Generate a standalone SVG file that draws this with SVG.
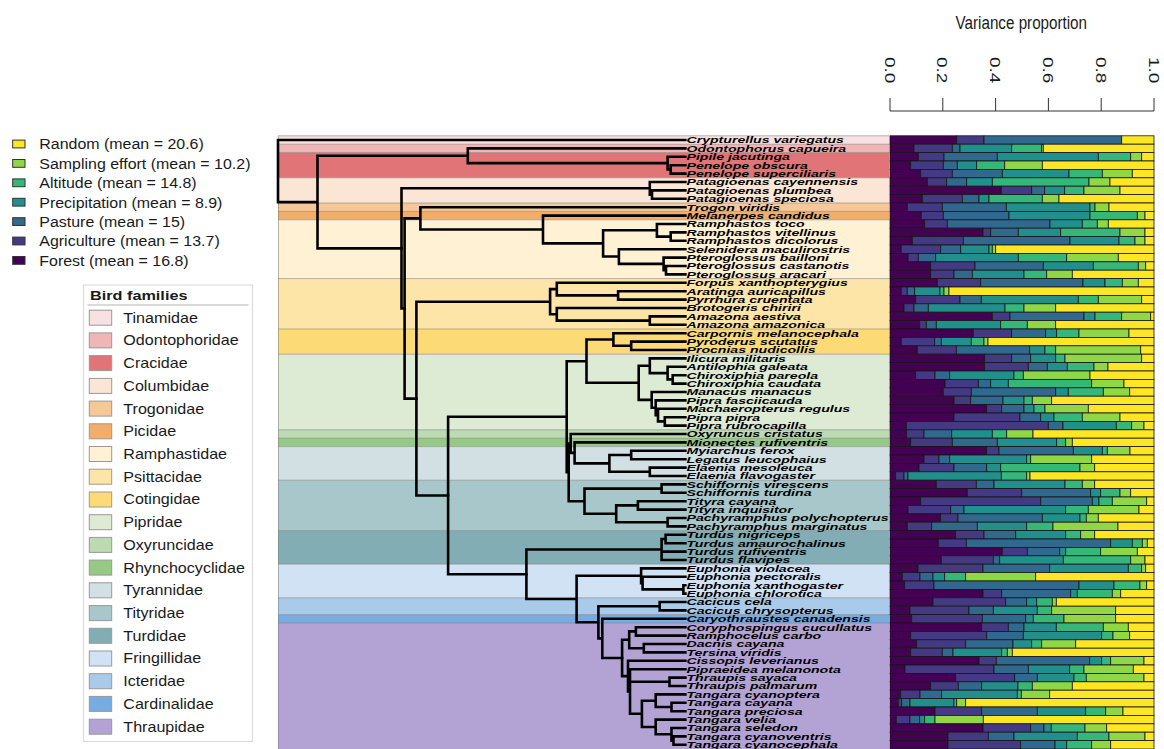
<svg xmlns="http://www.w3.org/2000/svg" width="1164" height="749" viewBox="0 0 1164 749">
<style>
text{font-family:"Liberation Sans",Arial,sans-serif;fill:#1a1a1a}
.tip text{font-weight:bold;font-style:italic;font-size:14.1px;fill:#000}
.edge{fill:none;stroke:#000;stroke-width:2.6;stroke-linecap:square}
#bars rect{stroke:#161616;stroke-width:.8}
.v1{fill:#440154}.v2{fill:#443A83}.v3{fill:#31688E}.v4{fill:#21908C}.v5{fill:#35B779}.v6{fill:#8FD744}.v7{fill:#FDE725}
.lg{font-size:15.5px}
.fam{font-size:14px}
.sw{stroke:#999;stroke-width:1}
.sep{stroke:#7d7d7d;stroke-opacity:.55;stroke-width:1}
.t1{fill:#F8E1E2}.t2{fill:#EFB5B7}.t3{fill:#E17477}.t4{fill:#FBE6D5}.t5{fill:#F6C898}.t6{fill:#F1AE6B}.t7{fill:#FFF1D4}.t8{fill:#FCE5A6}.t9{fill:#FCDB76}.t10{fill:#DDEBD5}.t11{fill:#BCDBB3}.t12{fill:#97C986}.t13{fill:#D2E0E4}.t14{fill:#A8C7CA}.t15{fill:#82ADB4}.t16{fill:#D0E2F4}.t17{fill:#A9CBE9}.t18{fill:#78ABDF}.t19{fill:#B3A3D4}
</style>
<rect width="1164" height="749" fill="#fff"/>

<g id="legend-variance">
<rect class="v7" x="12.7" y="140.1" width="12.3" height="7.8" stroke="#333"/>
<rect class="v6" x="12.7" y="159.5" width="12.3" height="7.8" stroke="#333"/>
<rect class="v5" x="12.7" y="178.9" width="12.3" height="7.8" stroke="#333"/>
<rect class="v4" x="12.7" y="198.3" width="12.3" height="7.8" stroke="#333"/>
<rect class="v3" x="12.7" y="217.7" width="12.3" height="7.8" stroke="#333"/>
<rect class="v2" x="12.7" y="237.1" width="12.3" height="7.8" stroke="#333"/>
<rect class="v1" x="12.7" y="256.5" width="12.3" height="7.8" stroke="#333"/>
<g transform="translate(39.3 0) scale(1.03 1)">
<text class="lg" x="0" y="149.5">Random (mean = 20.6)</text>
<text class="lg" x="0" y="168.9">Sampling effort (mean = 10.2)</text>
<text class="lg" x="0" y="188.3">Altitude (mean = 14.8)</text>
<text class="lg" x="0" y="207.7">Precipitation (mean = 8.9)</text>
<text class="lg" x="0" y="227.1">Pasture (mean = 15)</text>
<text class="lg" x="0" y="246.5">Agriculture (mean = 13.7)</text>
<text class="lg" x="0" y="265.9">Forest (mean = 16.8)</text>
</g>
</g>

<g id="legend-families">
<rect x="83.5" y="285" width="169" height="456.5" fill="#fff" stroke="#dcdcdc" stroke-width="1.2"/>
<text transform="translate(90 299.5) scale(1.25 1)" font-size="13" font-weight="bold">Bird families</text>
<line x1="87.5" y1="305" x2="248.5" y2="305" stroke="#b5b5b5" stroke-width="1"/>
<rect class="sw t1" x="89.3" y="310.2" width="22.4" height="15"/>
<rect class="sw t2" x="89.3" y="332.9" width="22.4" height="15"/>
<rect class="sw t3" x="89.3" y="355.6" width="22.4" height="15"/>
<rect class="sw t4" x="89.3" y="378.4" width="22.4" height="15"/>
<rect class="sw t5" x="89.3" y="401.1" width="22.4" height="15"/>
<rect class="sw t6" x="89.3" y="423.8" width="22.4" height="15"/>
<rect class="sw t7" x="89.3" y="446.5" width="22.4" height="15"/>
<rect class="sw t8" x="89.3" y="469.2" width="22.4" height="15"/>
<rect class="sw t9" x="89.3" y="492.0" width="22.4" height="15"/>
<rect class="sw t10" x="89.3" y="514.7" width="22.4" height="15"/>
<rect class="sw t11" x="89.3" y="537.4" width="22.4" height="15"/>
<rect class="sw t12" x="89.3" y="560.1" width="22.4" height="15"/>
<rect class="sw t13" x="89.3" y="582.8" width="22.4" height="15"/>
<rect class="sw t14" x="89.3" y="605.6" width="22.4" height="15"/>
<rect class="sw t15" x="89.3" y="628.3" width="22.4" height="15"/>
<rect class="sw t16" x="89.3" y="651.0" width="22.4" height="15"/>
<rect class="sw t17" x="89.3" y="673.7" width="22.4" height="15"/>
<rect class="sw t18" x="89.3" y="696.4" width="22.4" height="15"/>
<rect class="sw t19" x="89.3" y="719.2" width="22.4" height="15"/>
<g transform="translate(123.3 0) scale(1.15 1)">
<text class="fam" x="0" y="322.7">Tinamidae</text>
<text class="fam" x="0" y="345.4">Odontophoridae</text>
<text class="fam" x="0" y="368.1">Cracidae</text>
<text class="fam" x="0" y="390.9">Columbidae</text>
<text class="fam" x="0" y="413.6">Trogonidae</text>
<text class="fam" x="0" y="436.3">Picidae</text>
<text class="fam" x="0" y="459.0">Ramphastidae</text>
<text class="fam" x="0" y="481.7">Psittacidae</text>
<text class="fam" x="0" y="504.5">Cotingidae</text>
<text class="fam" x="0" y="527.2">Pipridae</text>
<text class="fam" x="0" y="549.9">Oxyruncidae</text>
<text class="fam" x="0" y="572.6">Rhynchocyclidae</text>
<text class="fam" x="0" y="595.3">Tyrannidae</text>
<text class="fam" x="0" y="618.1">Tityridae</text>
<text class="fam" x="0" y="640.8">Turdidae</text>
<text class="fam" x="0" y="663.5">Fringillidae</text>
<text class="fam" x="0" y="686.2">Icteridae</text>
<text class="fam" x="0" y="708.9">Cardinalidae</text>
<text class="fam" x="0" y="731.7">Thraupidae</text>
</g>
</g>

<g id="bands">
<rect class="t1" x="278" y="135.8" width="611" height="8.4"/>
<rect class="t2" x="278" y="144.2" width="611" height="8.4"/>
<rect class="t3" x="278" y="152.6" width="611" height="25.2"/>
<rect class="t4" x="278" y="177.8" width="611" height="25.2"/>
<rect class="t5" x="278" y="203.0" width="611" height="8.4"/>
<rect class="t6" x="278" y="211.4" width="611" height="8.4"/>
<rect class="t7" x="278" y="219.8" width="611" height="58.8"/>
<rect class="t8" x="278" y="278.6" width="611" height="50.4"/>
<rect class="t9" x="278" y="329.0" width="611" height="25.2"/>
<rect class="t10" x="278" y="354.2" width="611" height="75.6"/>
<rect class="t11" x="278" y="429.8" width="611" height="8.4"/>
<rect class="t12" x="278" y="438.2" width="611" height="8.4"/>
<rect class="t13" x="278" y="446.6" width="611" height="33.6"/>
<rect class="t14" x="278" y="480.2" width="611" height="50.4"/>
<rect class="t15" x="278" y="530.6" width="611" height="33.6"/>
<rect class="t16" x="278" y="564.2" width="611" height="33.6"/>
<rect class="t17" x="278" y="597.8" width="611" height="16.8"/>
<rect class="t18" x="278" y="614.6" width="611" height="8.4"/>
<rect class="t19" x="278" y="623.0" width="611" height="126"/>
<path class="sep" d="M278 135.8H889M278 144.2H889M278 152.6H889M278 177.8H889M278 203H889M278 211.4H889M278 219.8H889M278 278.6H889M278 329H889M278 354.2H889M278 429.8H889M278 438.2H889M278 446.6H889M278 480.2H889M278 530.6H889M278 564.2H889M278 597.8H889M278 614.6H889M278 623H889M278.5 135.8V749"/>
</g>

<g id="connectors">
<path class="edge" d="M278 140V202.1M278 140H685.4M278 202.1H317.5M317.5 155.75V248.4M317.5 155.75H467.8M317.5 248.4H401.5M467.8 148.4V163.1M467.8 148.4H685.4M467.8 163.1H667.6M667.6 156.8V169.4M667.6 156.8H685.4M667.6 169.4H670.7M670.7 165.2V173.6M670.7 165.2H685.4M670.7 173.6H685.4"/>
<path class="edge" d="M401.5 188.3V308.5M401.5 188.3H649.8M401.5 308.5H404.6M649.8 182V194.6M649.8 182H685.4M649.8 194.6H652M652 190.4V198.8M652 190.4H685.4M652 198.8H685.4"/>
<path class="edge" d="M404.6 218.35V398.6M404.6 218.35H420.4M404.6 398.6H416.4M420.4 207.2V229.5M420.4 207.2H685.4M420.4 229.5H543M543 215.6V243.4M543 215.6H685.4M543 243.4H603.1M603.1 230.3V256.55M603.1 230.3H656.9M603.1 256.55H618.9M656.9 224V236.6M656.9 224H685.4M656.9 236.6H670.7M670.7 232.4V240.8M670.7 232.4H685.4M670.7 240.8H685.4M618.9 249.2V263.9M618.9 249.2H685.4M618.9 263.9H663.6M663.6 257.6V270.2M663.6 257.6H685.4M663.6 270.2H666M666 266V274.4M666 266H685.4M666 274.4H685.4"/>
<path class="edge" d="M416.4 301.7V495.5M416.4 301.7H550.1M416.4 495.5H448.1M550.1 289.1V314.3M550.1 289.1H556.8M550.1 314.3H556.8M556.8 282.8V295.4M556.8 282.8H685.4M556.8 295.4H618.1M618.1 291.2V299.6M618.1 291.2H685.4M618.1 299.6H685.4M556.8 308V320.6M556.8 308H685.4M556.8 320.6H649.8M649.8 316.4V324.8M649.8 316.4H685.4M649.8 324.8H685.4"/>
<path class="edge" d="M448.1 416.75V574.25M448.1 416.75H566.7M448.1 574.25H526.4M566.7 361.2V472.3M566.7 361.2H586.5M566.7 472.3H568.7M586.5 339.5V382.8M586.5 339.5H613.4M586.5 382.8H638.7M613.4 333.2V345.8M613.4 333.2H685.4M613.4 345.8H631.2M631.2 341.6V350M631.2 341.6H685.4M631.2 350H685.4M638.7 365.75V399.9M638.7 365.75H649.8M638.7 399.9H651.7M649.8 358.4V373.1M649.8 358.4H685.4M649.8 373.1H667.6M667.6 366.8V379.4M667.6 366.8H685.4M667.6 379.4H672.7M672.7 375.2V383.6M672.7 375.2H685.4M672.7 383.6H685.4M651.7 392V407.75M651.7 392H685.4M651.7 407.75H655.7M655.7 400.4V415.1M655.7 400.4H685.4M655.7 415.1H658M658 408.8V421.4M658 408.8H685.4M658 421.4H664.8M664.8 417.2V425.6M664.8 417.2H685.4M664.8 425.6H685.4"/>
<path class="edge" d="M568.7 443.45V501.2M568.7 443.45H570.7M568.7 501.2H584.5M570.7 434V452.9M570.7 434H685.4M570.7 452.9H574.6M574.6 442.4V463.4M574.6 442.4H685.4M574.6 463.4H609.4M609.4 455V471.8M609.4 455H631.2M609.4 471.8H649.8M631.2 450.8V459.2M631.2 450.8H685.4M631.2 459.2H685.4M649.8 467.6V476M649.8 467.6H685.4M649.8 476H685.4M584.5 488.6V513.8M584.5 488.6H661.6M584.5 513.8H616.2M661.6 484.4V492.8M661.6 484.4H685.4M661.6 492.8H685.4M616.2 505.4V522.2M616.2 505.4H637.9M616.2 522.2H667.6M637.9 501.2V509.6M637.9 501.2H685.4M637.9 509.6H685.4M667.6 518V526.4M667.6 518H685.4M667.6 526.4H685.4"/>
<path class="edge" d="M526.4 549.5V599M526.4 549.5H661.6M526.4 599H576.6M661.6 539V560M661.6 539H665.6M661.6 551.6H685.4M661.6 560H685.4M665.6 534.8V543.2M665.6 534.8H685.4M665.6 543.2H685.4M576.6 575.75V622.3M576.6 575.75H641.1M576.6 622.3H598.4M641.1 568.4V583.1M641.1 568.4H685.4M641.1 583.1H642.6M642.6 576.8V589.4M642.6 576.8H685.4M642.6 589.4H683.4M683.4 585.2V593.6M683.4 585.2H685.4M683.4 593.6H685.4M598.4 606.2V638.4M598.4 606.2H659.7M598.4 638.4H602.3M659.7 602V610.4M659.7 602H685.4M659.7 610.4H685.4M602.3 618.8V657.97M602.3 618.8H685.4M602.3 657.97H622.1"/>
<path class="edge" d="M622.1 639.8V676.15M622.1 639.8H629.2M622.1 676.15H628M629.2 631.4V648.2M629.2 631.4H635.9M629.2 648.2H643.8M635.9 627.2V635.6M635.9 627.2H685.4M635.9 635.6H685.4M643.8 644V652.4M643.8 644H685.4M643.8 652.4H685.4M628 660.8V691.5M628 660.8H685.4M628 691.5H630M630 669.2V713.8M630 669.2H685.4M630 681.8H669.5M630 713.8H641.9M669.5 677.6V686M669.5 677.6H685.4M669.5 686H685.4M641.9 700.7V726.95M641.9 700.7H655.7M641.9 726.95H655.7M655.7 694.4V707M655.7 694.4H685.4M655.7 707H671.5M671.5 702.8V711.2M671.5 702.8H685.4M671.5 711.2H685.4M655.7 719.6V734.3M655.7 719.6H685.4M655.7 734.3H671.5M671.5 728V740.6M671.5 728H685.4M671.5 740.6H673.5M673.5 736.4V744.8M673.5 736.4H685.4M673.5 744.8H685.4"/>
</g>

<g id="tips" class="tip" transform="translate(686.5 0) scale(1 0.68)">
<text y="210.88">Crypturellus variegatus</text>
<text y="223.24">Odontophorus capueira</text>
<text y="235.59">Pipile jacutinga</text>
<text y="247.94">Penelope obscura</text>
<text y="260.29">Penelope superciliaris</text>
<text y="272.65">Patagioenas cayennensis</text>
<text y="285.00">Patagioenas plumbea</text>
<text y="297.35">Patagioenas speciosa</text>
<text y="309.71">Trogon viridis</text>
<text y="322.06">Melanerpes candidus</text>
<text y="334.41">Ramphastos toco</text>
<text y="346.76">Ramphastos vitellinus</text>
<text y="359.12">Ramphastos dicolorus</text>
<text y="371.47">Selenidera maculirostris</text>
<text y="383.82">Pteroglossus bailloni</text>
<text y="396.18">Pteroglossus castanotis</text>
<text y="408.53">Pteroglossus aracari</text>
<text y="420.88">Forpus xanthopterygius</text>
<text y="433.24">Aratinga auricapillus</text>
<text y="445.59">Pyrrhura cruentata</text>
<text y="457.94">Brotogeris chiriri</text>
<text y="470.29">Amazona aestiva</text>
<text y="482.65">Amazona amazonica</text>
<text y="495.00">Carpornis melanocephala</text>
<text y="507.35">Pyroderus scutatus</text>
<text y="519.71">Procnias nudicollis</text>
<text y="532.06">Ilicura militaris</text>
<text y="544.41">Antilophia galeata</text>
<text y="556.76">Chiroxiphia pareola</text>
<text y="569.12">Chiroxiphia caudata</text>
<text y="581.47">Manacus manacus</text>
<text y="593.82">Pipra fasciicauda</text>
<text y="606.18">Machaeropterus regulus</text>
<text y="618.53">Pipra pipra</text>
<text y="630.88">Pipra rubrocapilla</text>
<text y="643.24">Oxyruncus cristatus</text>
<text y="655.59">Mionectes rufiventris</text>
<text y="667.94">Myiarchus ferox</text>
<text y="680.29">Legatus leucophaius</text>
<text y="692.65">Elaenia mesoleuca</text>
<text y="705.00">Elaenia flavogaster</text>
<text y="717.35">Schiffornis virescens</text>
<text y="729.71">Schiffornis turdina</text>
<text y="742.06">Tityra cayana</text>
<text y="754.41">Tityra inquisitor</text>
<text y="766.76">Pachyramphus polychopterus</text>
<text y="779.12">Pachyramphus marginatus</text>
<text y="791.47">Turdus nigriceps</text>
<text y="803.82">Turdus amaurochalinus</text>
<text y="816.18">Turdus rufiventris</text>
<text y="828.53">Turdus flavipes</text>
<text y="840.88">Euphonia violacea</text>
<text y="853.24">Euphonia pectoralis</text>
<text y="865.59">Euphonia xanthogaster</text>
<text y="877.94">Euphonia chlorotica</text>
<text y="890.29">Cacicus cela</text>
<text y="902.65">Cacicus chrysopterus</text>
<text y="915.00">Caryothraustes canadensis</text>
<text y="927.35">Coryphospingus cucullatus</text>
<text y="939.71">Ramphocelus carbo</text>
<text y="952.06">Dacnis cayana</text>
<text y="964.41">Tersina viridis</text>
<text y="976.76">Cissopis leverianus</text>
<text y="989.12">Pipraeidea melanonota</text>
<text y="1001.47">Thraupis sayaca</text>
<text y="1013.82">Thraupis palmarum</text>
<text y="1026.18">Tangara cyanoptera</text>
<text y="1038.53">Tangara cayana</text>
<text y="1050.88">Tangara preciosa</text>
<text y="1063.24">Tangara velia</text>
<text y="1075.59">Tangara seledon</text>
<text y="1087.94">Tangara cyanoventris</text>
<text y="1100.29">Tangara cyanocephala</text>
</g>

<g id="axis">
<text transform="translate(1021.3 28.5) scale(0.8 1)" text-anchor="middle" font-size="19" fill="#222">Variance proportion</text>
<path d="M890 111H1154M890 111V98M942.8 111V98M995.6 111V98M1048.4 111V98M1101.2 111V98M1154 111V98" fill="none" stroke="#333" stroke-width="1"/>
<text transform="translate(884.5 57) rotate(90) scale(1 0.8)" font-size="19" fill="#222">0.0</text>
<text transform="translate(937.3 57) rotate(90) scale(1 0.8)" font-size="19" fill="#222">0.2</text>
<text transform="translate(990.1 57) rotate(90) scale(1 0.8)" font-size="19" fill="#222">0.4</text>
<text transform="translate(1042.9 57) rotate(90) scale(1 0.8)" font-size="19" fill="#222">0.6</text>
<text transform="translate(1095.7 57) rotate(90) scale(1 0.8)" font-size="19" fill="#222">0.8</text>
<text transform="translate(1148.5 57) rotate(90) scale(1 0.8)" font-size="19" fill="#222">1.0</text>
</g>

<g id="bars">
<g transform="translate(0 135.8)"><rect class="v1" x="890" width="66.7" height="8.4"/><rect class="v2" x="956.7" width="27.3" height="8.4"/><rect class="v3" x="984" width="137.7" height="8.4"/><rect class="v7" x="1121.7" width="32.3" height="8.4"/></g>
<g transform="translate(0 144.2)"><rect class="v1" x="890" width="24" height="8.4"/><rect class="v2" x="914" width="38.3" height="8.4"/><rect class="v3" x="952.3" width="7.7" height="8.4"/><rect class="v4" x="960" width="51.7" height="8.4"/><rect class="v5" x="1011.7" width="30" height="8.4"/><rect class="v6" x="1041.7" width="1.6" height="8.4"/><rect class="v7" x="1043.3" width="110.7" height="8.4"/></g>
<g transform="translate(0 152.6)"><rect class="v1" x="890" width="28.3" height="8.4"/><rect class="v2" x="918.3" width="25.7" height="8.4"/><rect class="v3" x="944" width="53.3" height="8.4"/><rect class="v4" x="997.3" width="101" height="8.4"/><rect class="v5" x="1098.3" width="32.4" height="8.4"/><rect class="v6" x="1130.7" width="11" height="8.4"/><rect class="v7" x="1141.7" width="12.3" height="8.4"/></g>
<g transform="translate(0 161)"><rect class="v1" x="890" width="20.7" height="8.4"/><rect class="v2" x="910.7" width="32.6" height="8.4"/><rect class="v3" x="943.3" width="14" height="8.4"/><rect class="v4" x="957.3" width="19.4" height="8.4"/><rect class="v5" x="976.7" width="28" height="8.4"/><rect class="v6" x="1004.7" width="37.6" height="8.4"/><rect class="v7" x="1042.3" width="111.7" height="8.4"/></g>
<g transform="translate(0 169.4)"><rect class="v1" x="890" width="30.7" height="8.4"/><rect class="v2" x="920.7" width="31.6" height="8.4"/><rect class="v3" x="952.3" width="50" height="8.4"/><rect class="v4" x="1002.3" width="66.7" height="8.4"/><rect class="v5" x="1069" width="33.3" height="8.4"/><rect class="v6" x="1102.3" width="30" height="8.4"/><rect class="v7" x="1132.3" width="21.7" height="8.4"/></g>
<g transform="translate(0 177.8)"><rect class="v1" x="890" width="37.3" height="8.4"/><rect class="v2" x="927.3" width="19.4" height="8.4"/><rect class="v3" x="946.7" width="20" height="8.4"/><rect class="v4" x="966.7" width="25.6" height="8.4"/><rect class="v5" x="992.3" width="96.7" height="8.4"/><rect class="v6" x="1089" width="21" height="8.4"/><rect class="v7" x="1110" width="44" height="8.4"/></g>
<g transform="translate(0 186.2)"><rect class="v1" x="890" width="111.3" height="8.4"/><rect class="v2" x="1001.3" width="30.4" height="8.4"/><rect class="v3" x="1031.7" width="13" height="8.4"/><rect class="v4" x="1044.7" width="20" height="8.4"/><rect class="v5" x="1064.7" width="19.3" height="8.4"/><rect class="v6" x="1084" width="36" height="8.4"/><rect class="v7" x="1120" width="34" height="8.4"/></g>
<g transform="translate(0 194.6)"><rect class="v1" x="890" width="32.3" height="8.4"/><rect class="v2" x="922.3" width="40" height="8.4"/><rect class="v3" x="962.3" width="16.7" height="8.4"/><rect class="v4" x="979" width="10" height="8.4"/><rect class="v5" x="989" width="53.3" height="8.4"/><rect class="v6" x="1042.3" width="16.7" height="8.4"/><rect class="v7" x="1059" width="95" height="8.4"/></g>
<g transform="translate(0 203)"><rect class="v1" x="890" width="17.3" height="8.4"/><rect class="v2" x="907.3" width="35" height="8.4"/><rect class="v3" x="942.3" width="64" height="8.4"/><rect class="v4" x="1006.3" width="83.7" height="8.4"/><rect class="v5" x="1090" width="5" height="8.4"/><rect class="v6" x="1095" width="14" height="8.4"/><rect class="v7" x="1109" width="45" height="8.4"/></g>
<g transform="translate(0 211.4)"><rect class="v1" x="890" width="31.3" height="8.4"/><rect class="v2" x="921.3" width="22" height="8.4"/><rect class="v3" x="943.3" width="65.7" height="8.4"/><rect class="v4" x="1009" width="81" height="8.4"/><rect class="v5" x="1090" width="47.3" height="8.4"/><rect class="v6" x="1137.3" width="7.7" height="8.4"/><rect class="v7" x="1145" width="9" height="8.4"/></g>
<g transform="translate(0 219.8)"><rect class="v1" x="890" width="34.7" height="8.4"/><rect class="v2" x="924.7" width="22.6" height="8.4"/><rect class="v3" x="947.3" width="102.7" height="8.4"/><rect class="v4" x="1050" width="32.3" height="8.4"/><rect class="v5" x="1082.3" width="15" height="8.4"/><rect class="v6" x="1097.3" width="11" height="8.4"/><rect class="v7" x="1108.3" width="45.7" height="8.4"/></g>
<g transform="translate(0 228.2)"><rect class="v1" x="890" width="93" height="8.4"/><rect class="v2" x="983" width="7.7" height="8.4"/><rect class="v3" x="990.7" width="27.6" height="8.4"/><rect class="v4" x="1018.3" width="42.4" height="8.4"/><rect class="v5" x="1060.7" width="59.3" height="8.4"/><rect class="v6" x="1120" width="25" height="8.4"/><rect class="v7" x="1145" width="9" height="8.4"/></g>
<g transform="translate(0 236.6)"><rect class="v1" x="890" width="22.3" height="8.4"/><rect class="v2" x="912.3" width="51" height="8.4"/><rect class="v3" x="963.3" width="106.7" height="8.4"/><rect class="v4" x="1070" width="49" height="8.4"/><rect class="v5" x="1119" width="16" height="8.4"/><rect class="v6" x="1135" width="10" height="8.4"/><rect class="v7" x="1145" width="9" height="8.4"/></g>
<g transform="translate(0 245)"><rect class="v1" x="890" width="11.3" height="8.4"/><rect class="v2" x="901.3" width="39.4" height="8.4"/><rect class="v3" x="940.7" width="20" height="8.4"/><rect class="v4" x="960.7" width="28.3" height="8.4"/><rect class="v5" x="989" width="3.3" height="8.4"/><rect class="v6" x="992.3" width="3.4" height="8.4"/><rect class="v7" x="995.7" width="158.3" height="8.4"/></g>
<g transform="translate(0 253.4)"><rect class="v1" x="890" width="18" height="8.4"/><rect class="v2" x="908" width="10.3" height="8.4"/><rect class="v3" x="918.3" width="17.4" height="8.4"/><rect class="v4" x="935.7" width="82.6" height="8.4"/><rect class="v5" x="1018.3" width="48.4" height="8.4"/><rect class="v6" x="1066.7" width="51.6" height="8.4"/><rect class="v7" x="1118.3" width="35.7" height="8.4"/></g>
<g transform="translate(0 261.8)"><rect class="v1" x="890" width="40.7" height="8.4"/><rect class="v2" x="930.7" width="44.3" height="8.4"/><rect class="v3" x="975" width="68.3" height="8.4"/><rect class="v4" x="1043.3" width="50" height="8.4"/><rect class="v5" x="1093.3" width="45" height="8.4"/><rect class="v6" x="1138.3" width="7.4" height="8.4"/><rect class="v7" x="1145.7" width="8.3" height="8.4"/></g>
<g transform="translate(0 270.2)"><rect class="v1" x="890" width="40.7" height="8.4"/><rect class="v2" x="930.7" width="23.3" height="8.4"/><rect class="v3" x="954" width="18.3" height="8.4"/><rect class="v4" x="972.3" width="51.7" height="8.4"/><rect class="v5" x="1024" width="22.7" height="8.4"/><rect class="v6" x="1046.7" width="25.6" height="8.4"/><rect class="v7" x="1072.3" width="81.7" height="8.4"/></g>
<g transform="translate(0 278.6)"><rect class="v1" x="890" width="47.3" height="8.4"/><rect class="v2" x="937.3" width="43.4" height="8.4"/><rect class="v3" x="980.7" width="102.3" height="8.4"/><rect class="v4" x="1083" width="22" height="8.4"/><rect class="v5" x="1105" width="17.3" height="8.4"/><rect class="v6" x="1122.3" width="16" height="8.4"/><rect class="v7" x="1138.3" width="15.7" height="8.4"/></g>
<g transform="translate(0 287)"><rect class="v1" x="890" width="11.3" height="8.4"/><rect class="v2" x="901.3" width="6" height="8.4"/><rect class="v3" x="907.3" width="7.4" height="8.4"/><rect class="v4" x="914.7" width="25.3" height="8.4"/><rect class="v5" x="940" width="4" height="8.4"/><rect class="v6" x="944" width="5" height="8.4"/><rect class="v7" x="949" width="205" height="8.4"/></g>
<g transform="translate(0 295.4)"><rect class="v1" x="890" width="25.7" height="8.4"/><rect class="v2" x="915.7" width="44.3" height="8.4"/><rect class="v3" x="960" width="21.3" height="8.4"/><rect class="v4" x="981.3" width="97" height="8.4"/><rect class="v5" x="1078.3" width="20" height="8.4"/><rect class="v6" x="1098.3" width="43.4" height="8.4"/><rect class="v7" x="1141.7" width="12.3" height="8.4"/></g>
<g transform="translate(0 303.8)"><rect class="v1" x="890" width="14" height="8.4"/><rect class="v2" x="904" width="10" height="8.4"/><rect class="v3" x="914" width="14.3" height="8.4"/><rect class="v4" x="928.3" width="76.7" height="8.4"/><rect class="v5" x="1005" width="19" height="8.4"/><rect class="v6" x="1024" width="31.7" height="8.4"/><rect class="v7" x="1055.7" width="98.3" height="8.4"/></g>
<g transform="translate(0 312.2)"><rect class="v1" x="890" width="102.3" height="8.4"/><rect class="v2" x="992.3" width="17.7" height="8.4"/><rect class="v3" x="1010" width="74" height="8.4"/><rect class="v4" x="1084" width="11" height="8.4"/><rect class="v5" x="1095" width="26.7" height="8.4"/><rect class="v6" x="1121.7" width="29" height="8.4"/><rect class="v7" x="1150.7" width="3.3" height="8.4"/></g>
<g transform="translate(0 320.6)"><rect class="v1" x="890" width="29.7" height="8.4"/><rect class="v2" x="919.7" width="6.6" height="8.4"/><rect class="v3" x="926.3" width="10" height="8.4"/><rect class="v4" x="936.3" width="64.4" height="8.4"/><rect class="v5" x="1000.7" width="26.6" height="8.4"/><rect class="v6" x="1027.3" width="28.4" height="8.4"/><rect class="v7" x="1055.7" width="98.3" height="8.4"/></g>
<g transform="translate(0 329)"><rect class="v1" x="890" width="83.3" height="8.4"/><rect class="v2" x="973.3" width="38.4" height="8.4"/><rect class="v3" x="1011.7" width="34" height="8.4"/><rect class="v4" x="1045.7" width="11" height="8.4"/><rect class="v5" x="1056.7" width="22.3" height="8.4"/><rect class="v6" x="1079" width="50" height="8.4"/><rect class="v7" x="1129" width="25" height="8.4"/></g>
<g transform="translate(0 337.4)"><rect class="v1" x="890" width="11.3" height="8.4"/><rect class="v2" x="901.3" width="33.4" height="8.4"/><rect class="v3" x="934.7" width="6.6" height="8.4"/><rect class="v4" x="941.3" width="30" height="8.4"/><rect class="v5" x="971.3" width="12.7" height="8.4"/><rect class="v6" x="984" width="4" height="8.4"/><rect class="v7" x="988" width="166" height="8.4"/></g>
<g transform="translate(0 345.8)"><rect class="v1" x="890" width="27.3" height="8.4"/><rect class="v2" x="917.3" width="39" height="8.4"/><rect class="v3" x="956.3" width="73.4" height="8.4"/><rect class="v4" x="1029.7" width="15.3" height="8.4"/><rect class="v5" x="1045" width="10.7" height="8.4"/><rect class="v6" x="1055.7" width="85" height="8.4"/><rect class="v7" x="1140.7" width="13.3" height="8.4"/></g>
<g transform="translate(0 354.2)"><rect class="v1" x="890" width="94.7" height="8.4"/><rect class="v2" x="984.7" width="27" height="8.4"/><rect class="v3" x="1011.7" width="19" height="8.4"/><rect class="v4" x="1030.7" width="25" height="8.4"/><rect class="v5" x="1055.7" width="9.3" height="8.4"/><rect class="v6" x="1065" width="76.7" height="8.4"/><rect class="v7" x="1141.7" width="12.3" height="8.4"/></g>
<g transform="translate(0 362.6)"><rect class="v1" x="890" width="94.7" height="8.4"/><rect class="v2" x="984.7" width="43.6" height="8.4"/><rect class="v3" x="1028.3" width="19" height="8.4"/><rect class="v4" x="1047.3" width="20" height="8.4"/><rect class="v5" x="1067.3" width="26.7" height="8.4"/><rect class="v6" x="1094" width="14" height="8.4"/><rect class="v7" x="1108" width="46" height="8.4"/></g>
<g transform="translate(0 371)"><rect class="v1" x="890" width="25.7" height="8.4"/><rect class="v2" x="915.7" width="19.3" height="8.4"/><rect class="v3" x="935" width="14.7" height="8.4"/><rect class="v4" x="949.7" width="64.3" height="8.4"/><rect class="v5" x="1014" width="9.3" height="8.4"/><rect class="v6" x="1023.3" width="66.7" height="8.4"/><rect class="v7" x="1090" width="64" height="8.4"/></g>
<g transform="translate(0 379.4)"><rect class="v1" x="890" width="55" height="8.4"/><rect class="v2" x="945" width="33.3" height="8.4"/><rect class="v3" x="978.3" width="12.4" height="8.4"/><rect class="v4" x="990.7" width="17.6" height="8.4"/><rect class="v5" x="1008.3" width="83.4" height="8.4"/><rect class="v6" x="1091.7" width="32.3" height="8.4"/><rect class="v7" x="1124" width="30" height="8.4"/></g>
<g transform="translate(0 387.8)"><rect class="v1" x="890" width="53.3" height="8.4"/><rect class="v2" x="943.3" width="28" height="8.4"/><rect class="v3" x="971.3" width="84.4" height="8.4"/><rect class="v4" x="1055.7" width="12.6" height="8.4"/><rect class="v5" x="1068.3" width="35" height="8.4"/><rect class="v6" x="1103.3" width="26.4" height="8.4"/><rect class="v7" x="1129.7" width="24.3" height="8.4"/></g>
<g transform="translate(0 396.2)"><rect class="v1" x="890" width="64" height="8.4"/><rect class="v2" x="954" width="16.7" height="8.4"/><rect class="v3" x="970.7" width="32.3" height="8.4"/><rect class="v4" x="1003" width="21" height="8.4"/><rect class="v5" x="1024" width="8.3" height="8.4"/><rect class="v6" x="1032.3" width="19.4" height="8.4"/><rect class="v7" x="1051.7" width="102.3" height="8.4"/></g>
<g transform="translate(0 404.6)"><rect class="v1" x="890" width="96.7" height="8.4"/><rect class="v2" x="986.7" width="15" height="8.4"/><rect class="v3" x="1001.7" width="22.3" height="8.4"/><rect class="v4" x="1024" width="10" height="8.4"/><rect class="v5" x="1034" width="11" height="8.4"/><rect class="v6" x="1045" width="43.3" height="8.4"/><rect class="v7" x="1088.3" width="65.7" height="8.4"/></g>
<g transform="translate(0 413)"><rect class="v1" x="890" width="64" height="8.4"/><rect class="v2" x="954" width="66" height="8.4"/><rect class="v3" x="1020" width="20.7" height="8.4"/><rect class="v4" x="1040.7" width="13.3" height="8.4"/><rect class="v5" x="1054" width="28.3" height="8.4"/><rect class="v6" x="1082.3" width="37.7" height="8.4"/><rect class="v7" x="1120" width="34" height="8.4"/></g>
<g transform="translate(0 421.4)"><rect class="v1" x="890" width="16.3" height="8.4"/><rect class="v2" x="906.3" width="142" height="8.4"/><rect class="v3" x="1048.3" width="14.7" height="8.4"/><rect class="v4" x="1063" width="53.3" height="8.4"/><rect class="v5" x="1116.3" width="15.4" height="8.4"/><rect class="v6" x="1131.7" width="12.3" height="8.4"/><rect class="v7" x="1144" width="10" height="8.4"/></g>
<g transform="translate(0 429.8)"><rect class="v1" x="890" width="16.7" height="8.4"/><rect class="v2" x="906.7" width="17.3" height="8.4"/><rect class="v3" x="924" width="27.7" height="8.4"/><rect class="v4" x="951.7" width="40.6" height="8.4"/><rect class="v5" x="992.3" width="14.4" height="8.4"/><rect class="v6" x="1006.7" width="26.3" height="8.4"/><rect class="v7" x="1033" width="121" height="8.4"/></g>
<g transform="translate(0 438.2)"><rect class="v1" x="890" width="20.7" height="8.4"/><rect class="v2" x="910.7" width="41.6" height="8.4"/><rect class="v3" x="952.3" width="45" height="8.4"/><rect class="v4" x="997.3" width="59.4" height="8.4"/><rect class="v5" x="1056.7" width="9" height="8.4"/><rect class="v6" x="1065.7" width="6.6" height="8.4"/><rect class="v7" x="1072.3" width="81.7" height="8.4"/></g>
<g transform="translate(0 446.6)"><rect class="v1" x="890" width="96.7" height="8.4"/><rect class="v2" x="986.7" width="12.3" height="8.4"/><rect class="v3" x="999" width="74.3" height="8.4"/><rect class="v4" x="1073.3" width="29" height="8.4"/><rect class="v5" x="1102.3" width="5" height="8.4"/><rect class="v6" x="1107.3" width="22.7" height="8.4"/><rect class="v7" x="1130" width="24" height="8.4"/></g>
<g transform="translate(0 455)"><rect class="v1" x="890" width="34" height="8.4"/><rect class="v2" x="924" width="15" height="8.4"/><rect class="v3" x="939" width="10.7" height="8.4"/><rect class="v4" x="949.7" width="77" height="8.4"/><rect class="v5" x="1026.7" width="4" height="8.4"/><rect class="v6" x="1030.7" width="61" height="8.4"/><rect class="v7" x="1091.7" width="62.3" height="8.4"/></g>
<g transform="translate(0 463.4)"><rect class="v1" x="890" width="29" height="8.4"/><rect class="v2" x="919" width="35" height="8.4"/><rect class="v3" x="954" width="32.7" height="8.4"/><rect class="v4" x="986.7" width="14" height="8.4"/><rect class="v5" x="1000.7" width="79.3" height="8.4"/><rect class="v6" x="1080" width="14.7" height="8.4"/><rect class="v7" x="1094.7" width="59.3" height="8.4"/></g>
<g transform="translate(0 471.8)"><rect class="v1" x="890" width="5.7" height="8.4"/><rect class="v2" x="895.7" width="8.3" height="8.4"/><rect class="v3" x="904" width="4" height="8.4"/><rect class="v4" x="908" width="93.3" height="8.4"/><rect class="v5" x="1001.3" width="25.4" height="8.4"/><rect class="v6" x="1026.7" width="3.3" height="8.4"/><rect class="v7" x="1030" width="124" height="8.4"/></g>
<g transform="translate(0 480.2)"><rect class="v1" x="890" width="46.3" height="8.4"/><rect class="v2" x="936.3" width="40" height="8.4"/><rect class="v3" x="976.3" width="17.7" height="8.4"/><rect class="v4" x="994" width="71" height="8.4"/><rect class="v5" x="1065" width="17.3" height="8.4"/><rect class="v6" x="1082.3" width="12.4" height="8.4"/><rect class="v7" x="1094.7" width="59.3" height="8.4"/></g>
<g transform="translate(0 488.6)"><rect class="v1" x="890" width="77.3" height="8.4"/><rect class="v2" x="967.3" width="54.4" height="8.4"/><rect class="v3" x="1021.7" width="69" height="8.4"/><rect class="v4" x="1090.7" width="10" height="8.4"/><rect class="v5" x="1100.7" width="19.3" height="8.4"/><rect class="v6" x="1120" width="10.7" height="8.4"/><rect class="v7" x="1130.7" width="23.3" height="8.4"/></g>
<g transform="translate(0 497)"><rect class="v1" x="890" width="30.7" height="8.4"/><rect class="v2" x="920.7" width="120" height="8.4"/><rect class="v3" x="1040.7" width="51.6" height="8.4"/><rect class="v4" x="1092.3" width="6.7" height="8.4"/><rect class="v5" x="1099" width="13.3" height="8.4"/><rect class="v6" x="1112.3" width="34.4" height="8.4"/><rect class="v7" x="1146.7" width="7.3" height="8.4"/></g>
<g transform="translate(0 505.4)"><rect class="v1" x="890" width="18" height="8.4"/><rect class="v2" x="908" width="42.7" height="8.4"/><rect class="v3" x="950.7" width="13.3" height="8.4"/><rect class="v4" x="964" width="101.7" height="8.4"/><rect class="v5" x="1065.7" width="22.6" height="8.4"/><rect class="v6" x="1088.3" width="50.7" height="8.4"/><rect class="v7" x="1139" width="15" height="8.4"/></g>
<g transform="translate(0 513.8)"><rect class="v1" x="890" width="50.7" height="8.4"/><rect class="v2" x="940.7" width="17.3" height="8.4"/><rect class="v3" x="958" width="84.3" height="8.4"/><rect class="v4" x="1042.3" width="37.7" height="8.4"/><rect class="v5" x="1080" width="6.3" height="8.4"/><rect class="v6" x="1086.3" width="12" height="8.4"/><rect class="v7" x="1098.3" width="55.7" height="8.4"/></g>
<g transform="translate(0 522.2)"><rect class="v1" x="890" width="17.3" height="8.4"/><rect class="v2" x="907.3" width="24.4" height="8.4"/><rect class="v3" x="931.7" width="45.6" height="8.4"/><rect class="v4" x="977.3" width="49.4" height="8.4"/><rect class="v5" x="1026.7" width="26.3" height="8.4"/><rect class="v6" x="1053" width="65" height="8.4"/><rect class="v7" x="1118" width="36" height="8.4"/></g>
<g transform="translate(0 530.6)"><rect class="v1" x="890" width="65.7" height="8.4"/><rect class="v2" x="955.7" width="28.3" height="8.4"/><rect class="v3" x="984" width="31.7" height="8.4"/><rect class="v4" x="1015.7" width="50" height="8.4"/><rect class="v5" x="1065.7" width="15" height="8.4"/><rect class="v6" x="1080.7" width="14" height="8.4"/><rect class="v7" x="1094.7" width="59.3" height="8.4"/></g>
<g transform="translate(0 539)"><rect class="v1" x="890" width="48.3" height="8.4"/><rect class="v2" x="938.3" width="28" height="8.4"/><rect class="v3" x="966.3" width="144.4" height="8.4"/><rect class="v4" x="1110.7" width="21.6" height="8.4"/><rect class="v5" x="1132.3" width="10" height="8.4"/><rect class="v6" x="1142.3" width="5" height="8.4"/><rect class="v7" x="1147.3" width="6.7" height="8.4"/></g>
<g transform="translate(0 547.4)"><rect class="v1" x="890" width="112.3" height="8.4"/><rect class="v2" x="1002.3" width="25" height="8.4"/><rect class="v3" x="1027.3" width="32.4" height="8.4"/><rect class="v4" x="1059.7" width="6" height="8.4"/><rect class="v5" x="1065.7" width="35" height="8.4"/><rect class="v6" x="1100.7" width="36.6" height="8.4"/><rect class="v7" x="1137.3" width="16.7" height="8.4"/></g>
<g transform="translate(0 555.8)"><rect class="v1" x="890" width="51.3" height="8.4"/><rect class="v2" x="941.3" width="52" height="8.4"/><rect class="v3" x="993.3" width="6.4" height="8.4"/><rect class="v4" x="999.7" width="63.6" height="8.4"/><rect class="v5" x="1063.3" width="67.4" height="8.4"/><rect class="v6" x="1130.7" width="14.3" height="8.4"/><rect class="v7" x="1145" width="9" height="8.4"/></g>
<g transform="translate(0 564.2)"><rect class="v1" x="890" width="28" height="8.4"/><rect class="v2" x="918" width="65" height="8.4"/><rect class="v3" x="983" width="66.7" height="8.4"/><rect class="v4" x="1049.7" width="78.6" height="8.4"/><rect class="v5" x="1128.3" width="13.4" height="8.4"/><rect class="v6" x="1141.7" width="4" height="8.4"/><rect class="v7" x="1145.7" width="8.3" height="8.4"/></g>
<g transform="translate(0 572.6)"><rect class="v1" x="890" width="12.3" height="8.4"/><rect class="v2" x="902.3" width="17.7" height="8.4"/><rect class="v3" x="920" width="13" height="8.4"/><rect class="v4" x="933" width="11.7" height="8.4"/><rect class="v5" x="944.7" width="21" height="8.4"/><rect class="v6" x="965.7" width="70" height="8.4"/><rect class="v7" x="1035.7" width="118.3" height="8.4"/></g>
<g transform="translate(0 581)"><rect class="v1" x="890" width="14.7" height="8.4"/><rect class="v2" x="904.7" width="29.3" height="8.4"/><rect class="v3" x="934" width="145" height="8.4"/><rect class="v4" x="1079" width="35" height="8.4"/><rect class="v5" x="1114" width="26" height="8.4"/><rect class="v6" x="1140" width="6.7" height="8.4"/><rect class="v7" x="1146.7" width="7.3" height="8.4"/></g>
<g transform="translate(0 589.4)"><rect class="v1" x="890" width="93" height="8.4"/><rect class="v2" x="983" width="18.7" height="8.4"/><rect class="v3" x="1001.7" width="69" height="8.4"/><rect class="v4" x="1070.7" width="6.6" height="8.4"/><rect class="v5" x="1077.3" width="35" height="8.4"/><rect class="v6" x="1112.3" width="8.4" height="8.4"/><rect class="v7" x="1120.7" width="33.3" height="8.4"/></g>
<g transform="translate(0 597.8)"><rect class="v1" x="890" width="43" height="8.4"/><rect class="v2" x="933" width="72.7" height="8.4"/><rect class="v3" x="1005.7" width="21" height="8.4"/><rect class="v4" x="1026.7" width="10" height="8.4"/><rect class="v5" x="1036.7" width="15.6" height="8.4"/><rect class="v6" x="1052.3" width="4" height="8.4"/><rect class="v7" x="1056.3" width="97.7" height="8.4"/></g>
<g transform="translate(0 606.2)"><rect class="v1" x="890" width="20" height="8.4"/><rect class="v2" x="910" width="59" height="8.4"/><rect class="v3" x="969" width="24.3" height="8.4"/><rect class="v4" x="993.3" width="44" height="8.4"/><rect class="v5" x="1037.3" width="14.4" height="8.4"/><rect class="v6" x="1051.7" width="64" height="8.4"/><rect class="v7" x="1115.7" width="38.3" height="8.4"/></g>
<g transform="translate(0 614.6)"><rect class="v1" x="890" width="21.7" height="8.4"/><rect class="v2" x="911.7" width="70.6" height="8.4"/><rect class="v3" x="982.3" width="43.4" height="8.4"/><rect class="v4" x="1025.7" width="7.6" height="8.4"/><rect class="v5" x="1033.3" width="30.7" height="8.4"/><rect class="v6" x="1064" width="51.7" height="8.4"/><rect class="v7" x="1115.7" width="38.3" height="8.4"/></g>
<g transform="translate(0 623)"><rect class="v1" x="890" width="91.7" height="8.4"/><rect class="v2" x="981.7" width="26.6" height="8.4"/><rect class="v3" x="1008.3" width="15.7" height="8.4"/><rect class="v4" x="1024" width="32.3" height="8.4"/><rect class="v5" x="1056.3" width="47" height="8.4"/><rect class="v6" x="1103.3" width="25" height="8.4"/><rect class="v7" x="1128.3" width="25.7" height="8.4"/></g>
<g transform="translate(0 631.4)"><rect class="v1" x="890" width="20.7" height="8.4"/><rect class="v2" x="910.7" width="76" height="8.4"/><rect class="v3" x="986.7" width="36.6" height="8.4"/><rect class="v4" x="1023.3" width="78.4" height="8.4"/><rect class="v5" x="1101.7" width="11.3" height="8.4"/><rect class="v6" x="1113" width="16.7" height="8.4"/><rect class="v7" x="1129.7" width="24.3" height="8.4"/></g>
<g transform="translate(0 639.8)"><rect class="v1" x="890" width="26.7" height="8.4"/><rect class="v2" x="916.7" width="49" height="8.4"/><rect class="v3" x="965.7" width="47.3" height="8.4"/><rect class="v4" x="1013" width="18.7" height="8.4"/><rect class="v5" x="1031.7" width="10" height="8.4"/><rect class="v6" x="1041.7" width="34" height="8.4"/><rect class="v7" x="1075.7" width="78.3" height="8.4"/></g>
<g transform="translate(0 648.2)"><rect class="v1" x="890" width="20.7" height="8.4"/><rect class="v2" x="910.7" width="31.6" height="8.4"/><rect class="v3" x="942.3" width="10.7" height="8.4"/><rect class="v4" x="953" width="48.7" height="8.4"/><rect class="v5" x="1001.7" width="5.6" height="8.4"/><rect class="v6" x="1007.3" width="5" height="8.4"/><rect class="v7" x="1012.3" width="141.7" height="8.4"/></g>
<g transform="translate(0 656.6)"><rect class="v1" x="890" width="89" height="8.4"/><rect class="v2" x="979" width="17.3" height="8.4"/><rect class="v3" x="996.3" width="93.4" height="8.4"/><rect class="v4" x="1089.7" width="12" height="8.4"/><rect class="v5" x="1101.7" width="9" height="8.4"/><rect class="v6" x="1110.7" width="33.3" height="8.4"/><rect class="v7" x="1144" width="10" height="8.4"/></g>
<g transform="translate(0 665)"><rect class="v1" x="890" width="15" height="8.4"/><rect class="v2" x="905" width="89" height="8.4"/><rect class="v3" x="994" width="34.3" height="8.4"/><rect class="v4" x="1028.3" width="41.4" height="8.4"/><rect class="v5" x="1069.7" width="14.3" height="8.4"/><rect class="v6" x="1084" width="49.3" height="8.4"/><rect class="v7" x="1133.3" width="20.7" height="8.4"/></g>
<g transform="translate(0 673.4)"><rect class="v1" x="890" width="65.7" height="8.4"/><rect class="v2" x="955.7" width="59" height="8.4"/><rect class="v3" x="1014.7" width="22.6" height="8.4"/><rect class="v4" x="1037.3" width="36.7" height="8.4"/><rect class="v5" x="1074" width="12.3" height="8.4"/><rect class="v6" x="1086.3" width="57.7" height="8.4"/><rect class="v7" x="1144" width="10" height="8.4"/></g>
<g transform="translate(0 681.8)"><rect class="v1" x="890" width="40.7" height="8.4"/><rect class="v2" x="930.7" width="27.6" height="8.4"/><rect class="v3" x="958.3" width="23.4" height="8.4"/><rect class="v4" x="981.7" width="36.3" height="8.4"/><rect class="v5" x="1018" width="14.3" height="8.4"/><rect class="v6" x="1032.3" width="40" height="8.4"/><rect class="v7" x="1072.3" width="81.7" height="8.4"/></g>
<g transform="translate(0 690.2)"><rect class="v1" x="890" width="10.7" height="8.4"/><rect class="v2" x="900.7" width="19.3" height="8.4"/><rect class="v3" x="920" width="21.7" height="8.4"/><rect class="v4" x="941.7" width="75.6" height="8.4"/><rect class="v5" x="1017.3" width="4" height="8.4"/><rect class="v6" x="1021.3" width="28.4" height="8.4"/><rect class="v7" x="1049.7" width="104.3" height="8.4"/></g>
<g transform="translate(0 698.6)"><rect class="v1" x="890" width="8.3" height="8.4"/><rect class="v2" x="898.3" width="3.4" height="8.4"/><rect class="v3" x="901.7" width="8.3" height="8.4"/><rect class="v4" x="910" width="44" height="8.4"/><rect class="v5" x="954" width="2.7" height="8.4"/><rect class="v6" x="956.7" width="9" height="8.4"/><rect class="v7" x="965.7" width="188.3" height="8.4"/></g>
<g transform="translate(0 707)"><rect class="v1" x="890" width="45" height="8.4"/><rect class="v2" x="935" width="46.7" height="8.4"/><rect class="v3" x="981.7" width="55.6" height="8.4"/><rect class="v4" x="1037.3" width="48.4" height="8.4"/><rect class="v5" x="1085.7" width="20" height="8.4"/><rect class="v6" x="1105.7" width="17.3" height="8.4"/><rect class="v7" x="1123" width="31" height="8.4"/></g>
<g transform="translate(0 715.4)"><rect class="v1" x="890" width="6.3" height="8.4"/><rect class="v2" x="896.3" width="13.7" height="8.4"/><rect class="v3" x="910" width="9.7" height="8.4"/><rect class="v4" x="919.7" width="5" height="8.4"/><rect class="v5" x="924.7" width="10.3" height="8.4"/><rect class="v6" x="935" width="48.3" height="8.4"/><rect class="v7" x="983.3" width="170.7" height="8.4"/></g>
<g transform="translate(0 723.8)"><rect class="v1" x="890" width="93" height="8.4"/><rect class="v2" x="983" width="47.7" height="8.4"/><rect class="v3" x="1030.7" width="13.3" height="8.4"/><rect class="v4" x="1044" width="7.3" height="8.4"/><rect class="v5" x="1051.3" width="33.7" height="8.4"/><rect class="v6" x="1085" width="21.7" height="8.4"/><rect class="v7" x="1106.7" width="47.3" height="8.4"/></g>
<g transform="translate(0 732.2)"><rect class="v1" x="890" width="58" height="8.4"/><rect class="v2" x="948" width="40.3" height="8.4"/><rect class="v3" x="988.3" width="25.7" height="8.4"/><rect class="v4" x="1014" width="63.3" height="8.4"/><rect class="v5" x="1077.3" width="31.7" height="8.4"/><rect class="v6" x="1109" width="36" height="8.4"/><rect class="v7" x="1145" width="9" height="8.4"/></g>
<g transform="translate(0 740.6)"><rect class="v1" x="890" width="58" height="8.4"/><rect class="v2" x="948" width="72.7" height="8.4"/><rect class="v3" x="1020.7" width="34.3" height="8.4"/><rect class="v4" x="1055" width="11.7" height="8.4"/><rect class="v5" x="1066.7" width="25" height="8.4"/><rect class="v6" x="1091.7" width="19" height="8.4"/><rect class="v7" x="1110.7" width="43.3" height="8.4"/></g>
</g>
</svg>
